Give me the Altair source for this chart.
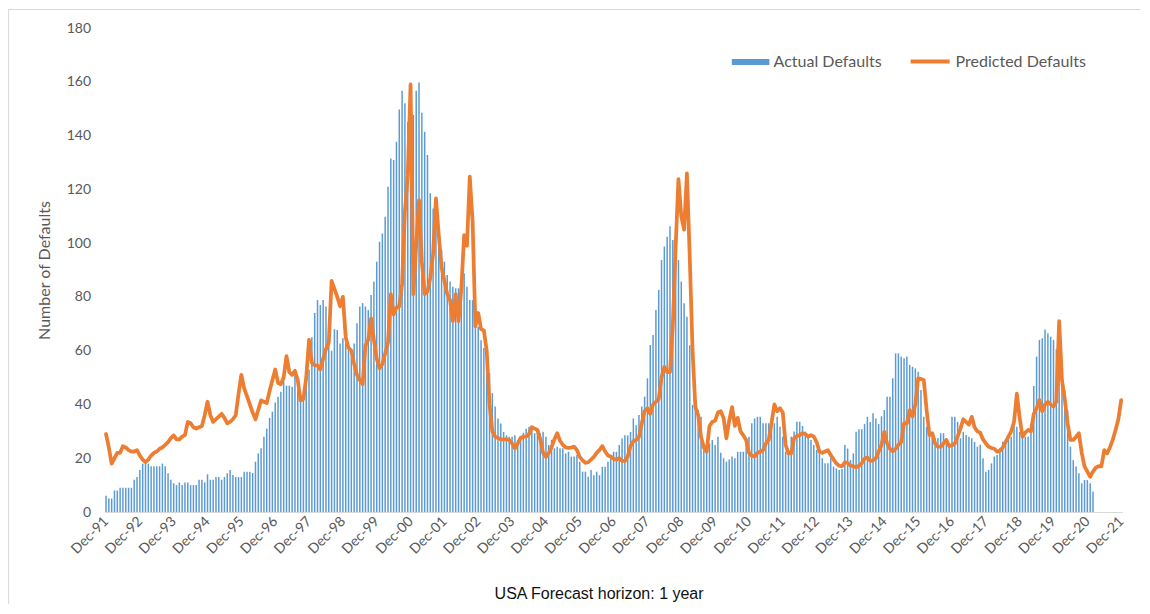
import altair as alt
import pandas as pd

# ---- categories (monthly, Dec-91 .. Dec-21) ----
month_labels = pd.date_range("1991-12-01", periods=361, freq="MS").strftime("%b-%y").tolist()
dec_labels = [m for m in month_labels if m.startswith("Dec")]
dec_positions = [i for i, m in enumerate(month_labels) if m.startswith("Dec")]
y_ticks = [0, 20, 40, 60, 80, 100, 120, 140, 160, 180]

# ---- series values ----
actual_defaults = [
    6, 5, 5, 8, 8, 9, 9, 9, 9, 9, 12, 13,
    15.6, 18, 18, 18, 17, 17, 17, 17, 18, 17, 14.4, 12,
    10.7, 10, 11, 10, 11, 11, 10, 10, 10, 12, 12, 11,
    14, 12, 12, 13, 13, 12, 13, 14.4, 15.6, 13.8, 13, 13,
    13, 15, 15, 15, 14.5, 18.7, 21.8, 23.7, 28, 31, 35, 37.3,
    40.7, 42.9, 44.7, 49, 47, 47, 46.6, 51, 45.5, 41.6, 41.6, 54.7,
    53, 65, 74, 78.8, 77, 78.8, 76.4, 68, 60, 68, 67.7, 62.7,
    64.6, 62.7, 60.2, 57.7, 62.7, 70.2, 76.4, 77.7, 76.4, 75.1, 80.7, 85.7,
    93.1, 100.5, 103.6, 109.8, 121, 131.5, 130.9, 137.7, 149.7, 156.7, 152, 145,
    140, 147.6, 156.7, 159.7, 148.5, 141.4, 132.8, 118.5, 112.9, 111.7, 102.4, 97.4,
    93.1, 88.1, 85.7, 83.8, 83.2, 83.2, 87.5, 88.8, 83.8, 78.8, 78.8, 76.4,
    68.9, 63.9, 61, 59, 51.6, 44.2, 39.2, 34.8, 32.9, 29.8, 28.5, 28,
    28, 28.5, 26.8, 28, 29.5, 31, 31.7, 31.7, 29.3, 29.8, 29.3, 29.8,
    28, 24.9, 26.8, 23.7, 24.3, 23.7, 23.7, 21.8, 22.4, 20.6, 20.6, 21.2,
    18.7, 15, 15, 13.1, 15.6, 13.7, 15, 13.7, 16.8, 16.8, 18.7, 20.6,
    22.4, 22.4, 24.9, 27.3, 28.5, 28.5, 29.8, 34.8, 32.3, 36.1, 39.2, 42.9,
    49.7, 62.1, 65.8, 75.1, 82.6, 93.7, 98.7, 102.4, 106.3, 101.2, 100.5, 93.7,
    85.7, 77.6, 72.6, 62, 39.8, 39.2, 37.9, 35.4, 24.9, 25.5, 25.5, 26.8,
    24.9, 28, 22, 20, 18.7, 19.5, 20.6, 20, 22.4, 22.4, 22.4, 26.8,
    28, 33, 34.8, 35.4, 35.4, 33, 33, 33, 35.4, 33, 35.4, 31.7,
    28, 22.4, 22.4, 28, 29.9, 33.6, 33.6, 32, 29.9, 28, 26.8, 24.9,
    23.1, 21.8, 20, 18.1, 18.1, 20, 16.9, 16.2, 15.6, 16, 24.9, 23.6,
    19.3, 21.8, 29.8, 30.8, 30.8, 32.7, 35.4, 33.5, 36.7, 34.8, 32.7, 35.6,
    37.9, 42.9, 42.9, 49.7, 59, 59, 57.8, 57.2, 57.8, 54.7, 54, 53.4,
    52.2, 45.4, 35.4, 31.7, 29.8, 27.9, 27.5, 27.5, 29.3, 29.3, 27.5, 24,
    35.4, 35.4, 33.5, 27.4, 29.8, 28.6, 28, 27.4, 26.1, 24.3, 25, 20,
    15, 15.6, 18.1, 20.6, 21.2, 23.7, 26.1, 26.8, 28.6, 28, 31.7, 31.7,
    29.8, 28, 28, 28, 33, 46.9, 57.8, 64, 64.6, 67.9, 66.5, 65.2,
    64, 60.5, 55, 51.6, 45.4, 37.9, 24.3, 19.3, 16.9, 14.4, 10.7, 11.9,
    11.9, 10.7, 7.6,
]

predicted_defaults = [
    29, 24, 18, 20, 22, 22, 24.5, 24, 23, 22.5, 22.5, 23,
    21, 19.5, 18.5, 19.5, 21, 22, 22.5, 23.5, 24, 25, 26, 27.5,
    28.5, 27, 27, 28, 28.6, 33.5, 33, 31.5, 31, 31.5, 32, 36,
    41, 36, 33.5, 34.5, 35.5, 36.5, 35, 33, 33.5, 34.5, 36, 44,
    51, 46, 43, 40, 37, 34.5, 38, 41.5, 41, 40.5, 45, 49,
    53, 48, 47.5, 50, 58, 52, 51, 52.5, 49, 41.5, 42, 50,
    64, 55.5, 54.5, 54.5, 53, 57, 60.5, 63, 86, 83, 80, 76.5,
    80, 65, 61, 60, 55, 51, 49, 47.5, 62, 64, 72, 64,
    57, 53.5, 55, 59, 63, 81, 73.5, 76, 76.5, 85, 112, 125,
    159, 81, 99, 116, 93, 81, 82, 87, 96, 116.6, 103, 91,
    86, 81, 78.8, 71, 81, 71, 83, 103, 99, 124.7, 108, 69,
    74, 68, 67.5, 60, 40, 30, 28, 27.5, 27, 27, 27, 26.8,
    25.5, 23.7, 25.5, 27.5, 28, 28, 29, 31.5, 31, 30.5, 27, 22,
    20.5, 22, 24, 27, 29.3, 26.5, 25, 24, 23.8, 24, 24.3, 23,
    20.5, 19.2, 18.3, 18.5, 19.5, 20.5, 22, 23, 24.5, 22.5, 21, 20.6,
    19.8, 19.4, 20, 19, 19, 20.6, 24.5, 26.3, 26.8, 28, 33, 37.5,
    38.6, 36.5, 40, 41, 42, 50, 54, 52, 52, 69.5, 98.5, 123.8,
    110, 105, 125.9, 95, 60, 39, 36, 28, 24, 22.4, 32, 33.5,
    34, 37, 37.5, 35, 27.4, 34, 39, 32, 35, 30, 28.5, 26.8,
    22, 21, 20.6, 22, 22.4, 23, 25.5, 26.8, 33, 40, 37.5, 38.6,
    37, 25, 21.8, 21.8, 27.5, 28.2, 28.6, 29.3, 29, 28, 28.6, 28,
    26, 22.4, 22, 22.5, 23, 21.2, 19.5, 18.1, 17.2, 17, 18.5, 18.2,
    17.3, 17, 16.6, 17.2, 18.1, 19.8, 20.3, 19, 19.2, 20, 22.5, 25,
    29.8, 25.5, 23.5, 22.5, 23.5, 25, 26, 33, 33, 37.9, 35.5, 40,
    49.7, 49.5, 49, 37.9, 28.6, 29.3, 25.5, 24.3, 24.3, 25.5, 26.8, 24.5,
    24.8, 25.5, 28, 31, 34.5, 33.5, 32.5, 35.4, 31.5, 30, 29.5, 27,
    25.5, 24.3, 23.8, 23.5, 22.4, 22.8, 24, 26, 28, 30, 33.5, 44,
    35, 28, 29.5, 30.5, 30, 36.5, 38.5, 41.6, 37.5, 40, 41, 40,
    39.2, 41, 71, 49, 42, 33, 26.8, 26.8, 28, 29.3, 22, 17,
    15, 13.1, 15, 16.5, 17.1, 17, 23, 21.8, 24, 26.8, 30.5, 34.5, 41.6,
]

bars_df = pd.DataFrame({
    "idx": list(range(len(actual_defaults))),
    "month": month_labels[:len(actual_defaults)],
    "value": actual_defaults,
    "series": "Actual Defaults",
})
line_df = pd.DataFrame({
    "idx": list(range(len(predicted_defaults))),
    "month": month_labels,
    "value": predicted_defaults,
    "series": "Predicted Defaults",
})

W, H = 1018, 484
GREY = "#595959"
FONT = "Lato"

label_array = "[" + ",".join("'" + l + "'" for l in dec_labels) + "]"
label_expr = label_array + "[round(datum.value / 12)]"

x_scale = alt.Scale(domain=[-0.5, len(month_labels) - 0.5], nice=False, zero=False, padding=0)
y_scale = alt.Scale(domain=[0, 180], nice=False, zero=True, padding=0)

x_axis = alt.Axis(
    values=dec_positions, labelExpr=label_expr,
    labelAngle=-45, labelAlign="right", labelBaseline="middle",
    labelFont=FONT, labelFontSize=14, labelColor=GREY, labelPadding=7,
    labelFlush=False, labelOverlap=False, labelBound=False,
    ticks=False, grid=False, domain=True, domainColor="#D9D9D9", domainWidth=1.2,
    title="USA Forecast horizon: 1 year", titleFont="Liberation Sans", titleFontSize=16,
    titleFontWeight="normal", titleColor="#111111", titleX=494, titleY=86,
    titleAlign="center", titleBaseline="alphabetic",
)
y_axis = alt.Axis(
    values=y_ticks, domain=False, ticks=False, grid=False,
    labelFont=FONT, labelFontSize=14, labelColor=GREY, labelPadding=14,
    title="Number of Defaults", titleFont=FONT, titleFontSize=16,
    titleFontWeight="normal", titleColor=GREY, titleAngle=270,
    titleX=-60, titleY=242, titleAlign="center", titleBaseline="middle",
)

frame_top = alt.Chart(pd.DataFrame({"k": [0]})).mark_rule(
    color="#D9D9D9", strokeWidth=1
).encode(x=alt.value(-100), x2=alt.value(1036), y=alt.value(-18.5))
frame_left = alt.Chart(pd.DataFrame({"k": [0]})).mark_rule(
    color="#D9D9D9", strokeWidth=1
).encode(x=alt.value(-96), y=alt.value(-18.5), y2=alt.value(620))

bars = alt.Chart(bars_df).mark_bar(size=1.5, orient="vertical").encode(
    x=alt.X("idx:Q", scale=x_scale, axis=x_axis),
    y=alt.Y("value:Q", scale=y_scale, axis=y_axis),
    fill=alt.Fill(
        "series:N",
        scale=alt.Scale(domain=["Actual Defaults"], range=["#5B9BD5"]),
        legend=alt.Legend(
            title=None, orient="none", legendX=627, legendY=15,
            symbolType="M-1,-0.16H1V0.16H-1Z", symbolSize=1414,
            symbolStrokeWidth=0, symbolOpacity=1,
            labelFont=FONT, labelFontSize=16, labelColor=GREY, labelOffset=4,
            padding=0,
        ),
    ),
)

line = alt.Chart(line_df).mark_line(
    strokeWidth=3.75, strokeJoin="round", strokeCap="round"
).encode(
    x=alt.X("idx:Q", scale=x_scale, axis=x_axis),
    y=alt.Y("value:Q", scale=y_scale, axis=y_axis),
    stroke=alt.Stroke(
        "series:N",
        scale=alt.Scale(domain=["Predicted Defaults"], range=["#ED7D31"]),
        legend=alt.Legend(
            title=None, orient="none", legendX=804, legendY=12,
            symbolType="stroke", symbolSize=1521, symbolStrokeWidth=4,
            labelFont=FONT, labelFontSize=16, labelColor=GREY, labelOffset=4,
            padding=0,
        ),
    ),
)

chart = alt.layer(frame_top, frame_left, bars, line).resolve_scale(
    fill="independent", stroke="independent"
).properties(
    width=W, height=H,
    autosize=alt.AutoSizeParams(type="none"),
    padding={"left": 96.6, "top": 20, "right": 19.4, "bottom": 92},
    background="white",
).configure_view(stroke=None)

chart.save("out.html", embed_options={"renderer": "svg", "actions": False})
